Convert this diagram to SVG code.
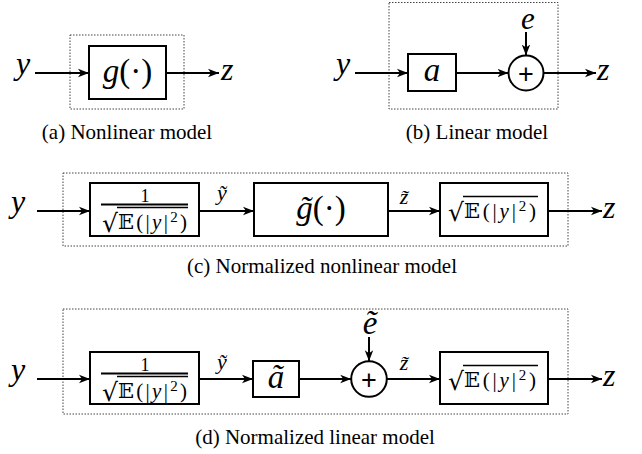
<svg xmlns="http://www.w3.org/2000/svg" width="642" height="454" viewBox="0 0 642 454">
<style>
.frame{fill:none;stroke:#444;stroke-width:1;stroke-dasharray:1.5 1.5}
.box{fill:#fff;stroke:#000;stroke-width:2}
.sum{fill:#fff;stroke:#000;stroke-width:2}
.wire{fill:none;stroke:#000;stroke-width:2;marker-end:url(#arr)}
.bar{stroke:#000;fill:none}
text{fill:#000}
.m{font-style:italic}
.ms{font-style:italic}
.up{font-style:normal}
</style>
<defs>
<marker id="arr" markerUnits="userSpaceOnUse" markerWidth="12" markerHeight="10" refX="11" refY="5" orient="auto">
<path d="M0,0.8 L11,5 L0,9.2 L3,5 Z" fill="#000"/>
</marker>
</defs>

<rect class="frame" x="70" y="35" width="114" height="74"/>
<rect class="frame" x="389" y="2.5" width="169" height="106.5"/>
<rect class="frame" x="63" y="173" width="505" height="73"/>
<rect class="frame" x="63" y="309" width="505" height="105"/>

<g id="connectors">
<line class="wire" x1="35" y1="73" x2="89" y2="73"/>
<line class="wire" x1="166" y1="73" x2="219" y2="73"/>
<line class="wire" x1="355" y1="73" x2="408" y2="73"/>
<line class="wire" x1="456" y1="73" x2="508.5" y2="73"/>
<line class="wire" x1="526" y1="32" x2="526" y2="55.5"/>
<line class="wire" x1="543.5" y1="73" x2="596" y2="73"/>
<line class="wire" x1="37" y1="211" x2="90" y2="211"/>
<line class="wire" x1="199" y1="211" x2="254" y2="211"/>
<line class="wire" x1="388" y1="211" x2="440" y2="211"/>
<line class="wire" x1="548" y1="211" x2="602" y2="211"/>
<line class="wire" x1="37" y1="379" x2="90" y2="379"/>
<line class="wire" x1="199" y1="379" x2="253" y2="379"/>
<line class="wire" x1="299" y1="379" x2="351.2" y2="379"/>
<line class="wire" x1="369" y1="337" x2="369" y2="361.2"/>
<line class="wire" x1="386.8" y1="379" x2="440" y2="379"/>
<line class="wire" x1="548" y1="379" x2="602" y2="379"/>
</g>

<g font-family="'Liberation Serif', 'Times New Roman', serif">
<!-- (a) -->
<g id="a-in"><text class="m" x="16" y="74" font-size="32">y</text></g>
<g id="a-g"><rect class="box" x="89" y="46" width="77" height="53"/>
<text class="m" x="127.5" y="82" text-anchor="middle" font-size="33">g<tspan class="up">(·)</tspan></text></g>
<g id="a-out"><text class="m" x="221" y="80" font-size="32">z</text></g>
<text x="127" y="139" text-anchor="middle" font-size="21">(a) Nonlinear model</text>

<!-- (b) -->
<g id="b-in"><text class="m" x="336" y="74" font-size="32">y</text></g>
<g id="b-a"><rect class="box" x="408" y="54" width="48" height="37"/>
<text class="m" x="432" y="81" text-anchor="middle" font-size="33">a</text></g>
<g id="b-sum"><circle class="sum" cx="526" cy="73" r="17.5"/>
<text x="526" y="82.5" text-anchor="middle" font-size="27" font-family="'Liberation Sans', Arial, sans-serif">+</text></g>
<g id="b-e"><text class="m" x="528" y="28.5" text-anchor="middle" font-size="31">e</text></g>
<g id="b-out"><text class="m" x="597" y="80" font-size="32">z</text></g>
<text x="477" y="139" text-anchor="middle" font-size="21">(b) Linear model</text>

<!-- (c) -->
<g id="c-in"><text class="m" x="11" y="212" font-size="32">y</text></g>
<g id="c-norm"><rect class="box" x="90" y="183" width="109" height="53"/>
<text x="145" y="202" text-anchor="middle" font-size="18">1</text>
<line class="bar" x1="101" y1="204.5" x2="188" y2="204.5" stroke-width="2"/>
<text x="102" y="232" font-size="25" font-family="'DejaVu Serif', serif">√</text>
<line class="bar" x1="117" y1="207.5" x2="188" y2="207.5" stroke-width="1.3"/>
<text x="118" y="229" font-size="21" textLength="69" lengthAdjust="spacing"><tspan font-family="'DejaVu Serif', serif">𝔼</tspan>(|<tspan font-style="italic">y</tspan>|<tspan font-size="15" dy="-7">2</tspan><tspan dy="7">)</tspan></text></g>
<g id="c-yt"><text class="ms" x="222" y="200" text-anchor="middle" font-size="22">ỹ</text></g>
<g id="c-g"><rect class="box" x="254" y="183" width="134" height="53"/>
<text class="m" x="321" y="219" text-anchor="middle" font-size="33">g̃<tspan class="up">(·)</tspan></text></g>
<g id="c-zt"><text class="ms" x="404" y="204" text-anchor="middle" font-size="22">z̃</text></g>
<g id="c-denorm"><rect class="box" x="440" y="183" width="108" height="53"/>
<text x="448" y="221" font-size="25" font-family="'DejaVu Serif', serif">√</text>
<line class="bar" x1="463" y1="196.5" x2="538" y2="196.5" stroke-width="1.3"/>
<text x="464" y="218" font-size="21" textLength="72" lengthAdjust="spacing"><tspan font-family="'DejaVu Serif', serif">𝔼</tspan>(|<tspan font-style="italic">y</tspan>|<tspan font-size="15" dy="-7">2</tspan><tspan dy="7">)</tspan></text></g>
<g id="c-out"><text class="m" x="603" y="218" font-size="32">z</text></g>
<text x="322" y="273" text-anchor="middle" font-size="21">(c) Normalized nonlinear model</text>

<!-- (d) -->
<g id="d-in"><text class="m" x="11" y="380" font-size="32">y</text></g>
<g id="d-norm"><rect class="box" x="90" y="352" width="109" height="52"/>
<text x="145" y="371" text-anchor="middle" font-size="18">1</text>
<line class="bar" x1="101" y1="373.5" x2="188" y2="373.5" stroke-width="2"/>
<text x="102" y="401" font-size="25" font-family="'DejaVu Serif', serif">√</text>
<line class="bar" x1="117" y1="376.5" x2="188" y2="376.5" stroke-width="1.3"/>
<text x="118" y="398" font-size="21" textLength="69" lengthAdjust="spacing"><tspan font-family="'DejaVu Serif', serif">𝔼</tspan>(|<tspan font-style="italic">y</tspan>|<tspan font-size="15" dy="-7">2</tspan><tspan dy="7">)</tspan></text></g>
<g id="d-yt"><text class="ms" x="222" y="369" text-anchor="middle" font-size="22">ỹ</text></g>
<g id="d-a"><rect class="box" x="253" y="361" width="46" height="36"/>
<text class="m" x="276" y="388" text-anchor="middle" font-size="33">ã</text></g>
<g id="d-sum"><circle class="sum" cx="369" cy="379" r="17.8"/>
<text x="369" y="388.5" text-anchor="middle" font-size="27" font-family="'Liberation Sans', Arial, sans-serif">+</text></g>
<g id="d-e"><text class="m" x="370" y="334" text-anchor="middle" font-size="33">ẽ</text></g>
<g id="d-zt"><text class="ms" x="404" y="370" text-anchor="middle" font-size="22">z̃</text></g>
<g id="d-denorm"><rect class="box" x="440" y="352" width="108" height="52"/>
<text x="448" y="390" font-size="25" font-family="'DejaVu Serif', serif">√</text>
<line class="bar" x1="463" y1="365.5" x2="538" y2="365.5" stroke-width="1.3"/>
<text x="464" y="387" font-size="21" textLength="72" lengthAdjust="spacing"><tspan font-family="'DejaVu Serif', serif">𝔼</tspan>(|<tspan font-style="italic">y</tspan>|<tspan font-size="15" dy="-7">2</tspan><tspan dy="7">)</tspan></text></g>
<g id="d-out"><text class="m" x="603" y="386" font-size="32">z</text></g>
<text x="315" y="444" text-anchor="middle" font-size="21">(d) Normalized linear model</text>
</g>
</svg>
